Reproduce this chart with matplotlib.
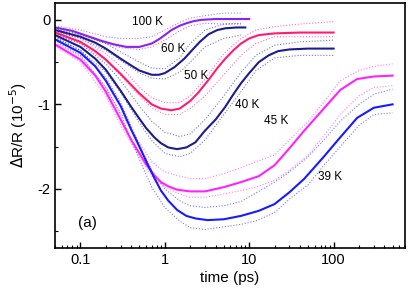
import matplotlib
matplotlib.use('Agg')
import matplotlib.pyplot as plt
from matplotlib.ticker import LogLocator, MultipleLocator, FixedLocator

plt.rcParams['font.family'] = ['Liberation Sans', 'DejaVu Sans']

# sovitteet (fit lines)
t100 = [0.05, 0.08, 0.12, 0.18, 0.25, 0.35, 0.5, 0.7, 0.85, 1.0, 1.2, 1.5, 1.8, 2.2, 2.7, 4, 6, 10]
v100 = [-0.09, -0.13, -0.19, -0.25, -0.29, -0.32, -0.32, -0.28, -0.23, -0.18, -0.12, -0.07, -0.04, -0.015, 0.0, 0.01, 0.01, 0.01]

t60 = [0.05, 0.1, 0.15, 0.2, 0.3, 0.4, 0.5, 0.7, 0.85, 1.0, 1.3, 1.7, 2.1, 2.6, 3.3, 4.2, 5.2, 7, 9]
v60 = [-0.12, -0.20, -0.27, -0.34, -0.46, -0.54, -0.60, -0.65, -0.65, -0.63, -0.56, -0.46, -0.36, -0.26, -0.17, -0.12, -0.10, -0.09, -0.09]

t50 = [0.05, 0.1, 0.15, 0.2, 0.3, 0.4, 0.5, 0.7, 0.9, 1.2, 1.5, 2.0, 2.5, 3.3, 4.2, 5.2, 6.5, 8, 10, 13, 20, 40, 100]
v50 = [-0.15, -0.26, -0.37, -0.47, -0.64, -0.77, -0.87, -1.00, -1.05, -1.07, -1.05, -0.96, -0.86, -0.71, -0.57, -0.46, -0.36, -0.28, -0.22, -0.18, -0.16, -0.15, -0.15]

t40 = [0.05, 0.1, 0.15, 0.2, 0.3, 0.4, 0.5, 0.6, 0.75, 0.9, 1.1, 1.4, 1.8, 2.3, 3.0, 4.0, 5.2, 6.5, 8, 10, 13, 17, 22, 30, 50, 100]
v40 = [-0.18, -0.32, -0.46, -0.59, -0.84, -1.03, -1.17, -1.28, -1.39, -1.46, -1.51, -1.53, -1.51, -1.45, -1.31, -1.18, -1.03, -0.88, -0.75, -0.63, -0.50, -0.42, -0.37, -0.35, -0.34, -0.34]

t45 = [0.05, 0.1, 0.15, 0.2, 0.3, 0.4, 0.5, 0.6, 0.75, 0.9, 1.1, 1.4, 2, 3, 5, 8, 13, 20, 30, 45, 75, 120, 190, 300, 500]
v45 = [-0.29, -0.47, -0.66, -0.85, -1.18, -1.42, -1.58, -1.71, -1.84, -1.92, -1.97, -2.01, -2.03, -2.03, -1.98, -1.92, -1.85, -1.72, -1.52, -1.31, -1.06, -0.83, -0.70, -0.67, -0.66]

t39 = [0.05, 0.1, 0.15, 0.2, 0.3, 0.4, 0.5, 0.6, 0.75, 0.9, 1.1, 1.4, 1.8, 2.3, 3.2, 5, 8, 13, 20, 30, 45, 75, 120, 190, 300, 500]
v39 = [-0.23, -0.39, -0.55, -0.72, -1.02, -1.30, -1.50, -1.67, -1.87, -2.02, -2.14, -2.25, -2.32, -2.35, -2.37, -2.36, -2.32, -2.26, -2.18, -2.04, -1.88, -1.63, -1.39, -1.16, -1.04, -1.00]

# mittausdata: hajonnan ylä- ja alareuna
td_a = [0.05, 0.1, 0.2, 0.3, 0.5, 0.7, 1, 1.5, 2, 3, 5, 8]
d100_hi = [-0.07, -0.12, -0.20, -0.22, -0.22, -0.20, -0.12, -0.03, 0.02, 0.05, 0.08, 0.08]
d100_lo = [-0.11, -0.18, -0.28, -0.33, -0.35, -0.32, -0.24, -0.13, -0.07, -0.04, -0.05, -0.05]
d60_hi = [-0.10, -0.17, -0.28, -0.38, -0.50, -0.57, -0.58, -0.45, -0.28, -0.12, -0.05, -0.04]
d60_lo = [-0.14, -0.22, -0.36, -0.48, -0.63, -0.69, -0.70, -0.62, -0.50, -0.32, -0.22, -0.18]

td_b = [0.05, 0.1, 0.2, 0.3, 0.5, 0.7, 1, 1.5, 2, 3, 5, 8, 12, 20, 40, 100]
d50_hi = [-0.13, -0.22, -0.40, -0.55, -0.80, -0.92, -0.98, -0.98, -0.90, -0.70, -0.40, -0.22, -0.12, -0.08, -0.05, -0.02]
d50_lo = [-0.17, -0.28, -0.48, -0.66, -0.90, -1.04, -1.12, -1.12, -1.05, -0.90, -0.65, -0.42, -0.28, -0.20, -0.20, -0.20]
d40_hi = [-0.16, -0.28, -0.52, -0.72, -1.02, -1.20, -1.33, -1.38, -1.35, -1.18, -0.90, -0.62, -0.42, -0.30, -0.26, -0.24]
d40_lo = [-0.20, -0.36, -0.62, -0.86, -1.22, -1.43, -1.58, -1.62, -1.58, -1.42, -1.12, -0.85, -0.60, -0.45, -0.42, -0.42]

td_c = [0.05, 0.1, 0.2, 0.3, 0.5, 0.7, 1, 1.5, 2, 3, 5, 8, 12, 20, 30, 50, 80, 120, 200, 300, 500]
d45_hi = [-0.27, -0.43, -0.80, -1.10, -1.45, -1.68, -1.80, -1.85, -1.88, -1.88, -1.82, -1.75, -1.68, -1.60, -1.42, -1.20, -0.95, -0.72, -0.60, -0.55, -0.52]
d45_lo = [-0.31, -0.50, -0.90, -1.25, -1.62, -1.85, -1.98, -2.06, -2.10, -2.10, -2.06, -2.02, -1.98, -1.90, -1.78, -1.60, -1.35, -1.12, -0.90, -0.80, -0.78]
d39_hi = [-0.21, -0.36, -0.68, -0.98, -1.48, -1.78, -2.00, -2.14, -2.20, -2.22, -2.20, -2.15, -2.05, -1.92, -1.80, -1.62, -1.40, -1.20, -1.00, -0.88, -0.82]
d39_lo = [-0.25, -0.42, -0.80, -1.12, -1.65, -1.98, -2.22, -2.38, -2.46, -2.48, -2.45, -2.42, -2.38, -2.28, -2.12, -1.95, -1.70, -1.50, -1.25, -1.12, -1.10]

c100 = '#8b22f0'
c60 = '#1c1c8c'
c50 = '#ff1a75'
c40 = '#1c1c8c'
c45 = '#ff22ff'
c39 = '#1a1aff'

fig = plt.figure(figsize=(4.09, 2.97), dpi=100)
ax = fig.add_axes([0.1345, 0.165, 0.8555, 0.825])

sarjat = [
    (td_a, d100_hi, d100_lo, t100, v100, c100),
    (td_a, d60_hi, d60_lo, t60, v60, c60),
    (td_b, d50_hi, d50_lo, t50, v50, c50),
    (td_b, d40_hi, d40_lo, t40, v40, c40),
    (td_c, d45_hi, d45_lo, t45, v45, c45),
    (td_c, d39_hi, d39_lo, t39, v39, c39),
]
for td, hi, lo, tf, vf, c in sarjat:
    ax.plot(td, hi, color=c, lw=0.8, ls=(0, (1, 1.6)), alpha=0.6)
    ax.plot(td, lo, color=c, lw=0.8, ls=(0, (1, 1.6)), alpha=0.6)
for td, hi, lo, tf, vf, c in sarjat:
    ax.plot(tf, vf, color=c, lw=1.5)

ax.set_xscale('log')
ax.set_xlim(0.05, 700)
ax.set_ylim(-2.7, 0.2)
ax.xaxis.set_major_locator(FixedLocator([0.1, 1, 10, 100]))
ax.set_xticklabels(['0.1', '1', '10', '100'])
ax.xaxis.set_minor_locator(LogLocator(base=10, subs=range(2, 10), numticks=20))
ax.yaxis.set_major_locator(FixedLocator([0, -1, -2]))
ax.set_yticklabels(['0', '-1', '-2'])
ax.yaxis.set_minor_locator(MultipleLocator(0.5))
ax.tick_params(which='both', direction='in', top=False, right=False, labelsize=10.5)
ax.tick_params(which='major', length=4, width=1)
ax.tick_params(which='minor', length=2.5, width=0.8)
for s in ax.spines.values():
    s.set_linewidth(1.2)

ax.set_xlabel('time (ps)', fontsize=11, labelpad=3)
ax.set_ylabel(r'$\Delta$R/R (10$^{-5}$)', fontsize=11, labelpad=6)

tekstit = [('100 K', 0.63), ('60 K', 1.25), ('50 K', 2.35), ('40 K', 9.4), ('45 K', 21), ('39 K', 90)]
arvot = [-0.02, -0.35, -0.67, -1.01, -1.20, -1.86]
for (s, tx), ty in zip(tekstit, arvot):
    ax.text(tx, ty, s, fontsize=8.5, ha='center', va='center')
ax.text(0.12, -2.4, '(a)', fontsize=11, ha='center', va='center')

fig.savefig('out.png', dpi=100)
